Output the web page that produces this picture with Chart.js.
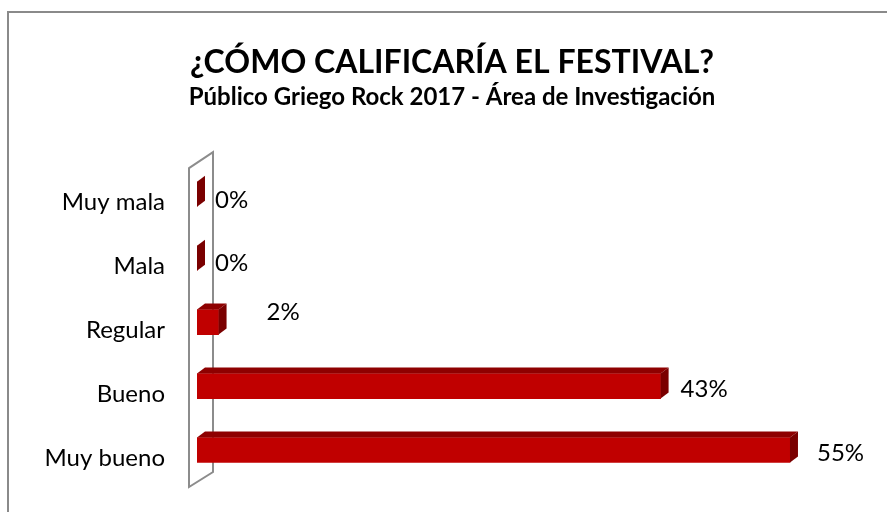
<!DOCTYPE html>
<html>
<head>
<meta charset="utf-8">
<script src="https://cdn.jsdelivr.net/npm/chart.js@4.4.1/dist/chart.umd.min.js"></script>
<style>
  html, body { margin: 0; padding: 0; background: #fff; }
  #wrap { width: 887px; height: 512px; position: relative; }
</style>
</head>
<body>
<div id="wrap"><canvas id="chart"></canvas></div>
<script>
// categories (top to bottom) and the share of answers, in percent
var categories = ['Muy mala', 'Mala', 'Regular', 'Bueno', 'Muy bueno'];
var shares = [0, 0, 2, 43, 55];
var valueLabels = ['0%', '0%', '2%', '43%', '55%'];

var titleText = '¿CÓMO CALIFICARÍA EL FESTIVAL?';
var subtitleText = 'Público Griego Rock 2017 - Área de Investigación';

var FONT = 'Lato, Calibri, "Open Sans", sans-serif';
var RED = '#c00000';
var RED_TOP = '#8e0000';
var RED_SIDE = '#7a0000';

// outer frame of the picture
var framePlugin = {
    id: 'frame',
    beforeDraw: function(chart) {
        var ctx = chart.ctx;
        ctx.save();
        ctx.fillStyle = '#fff';
        ctx.fillRect(0, 0, chart.width, chart.height);
        ctx.strokeStyle = '#8a8a8a';
        ctx.lineWidth = 2;
        ctx.strokeRect(8, 12, chart.width + 10, chart.height + 10);
        ctx.restore();
    }
};

// the slanted back wall at value 0
var wallPlugin = {
    id: 'wall',
    beforeDatasetsDraw: function(chart) {
        var a = chart.chartArea, ctx = chart.ctx;
        var l = a.left - 8;
        ctx.save();
        ctx.beginPath();
        ctx.moveTo(l, a.top + 6);
        ctx.lineTo(l + 24, a.top - 10);
        ctx.lineTo(l + 24, a.bottom - 10);
        ctx.lineTo(l, a.bottom + 5);
        ctx.closePath();
        ctx.fillStyle = '#fff';
        ctx.fill();
        ctx.strokeStyle = '#8c8c8c';
        ctx.lineWidth = 2;
        ctx.stroke();
        ctx.restore();
    }
};

// top and side faces of each bar, plus the value labels
var bars3dPlugin = {
    id: 'bars3d',
    afterDatasetsDraw: function(chart, args, opts) {
        var ctx = chart.ctx;
        var dx = opts.depthX, dy = opts.depthY;
        var meta = chart.getDatasetMeta(0);
        ctx.save();
        meta.data.forEach(function(bar, i) {
            var p = bar.getProps(['x', 'y', 'base', 'height'], true);
            var top = p.y - p.height / 2, bottom = p.y + p.height / 2;
            // top face
            ctx.beginPath();
            ctx.moveTo(p.base, top);
            ctx.lineTo(p.x, top);
            ctx.lineTo(p.x + dx, top - dy);
            ctx.lineTo(p.base + dx, top - dy);
            ctx.closePath();
            ctx.fillStyle = RED_TOP;
            ctx.fill();
            // side face
            ctx.beginPath();
            ctx.moveTo(p.x, top);
            ctx.lineTo(p.x + dx, top - dy);
            ctx.lineTo(p.x + dx, bottom - dy);
            ctx.lineTo(p.x, bottom);
            ctx.closePath();
            ctx.fillStyle = RED_SIDE;
            ctx.fill();
            // value label
            var n = opts.nudge[i] || [0, 0];
            ctx.font = '24px ' + FONT;
            ctx.fillStyle = '#000';
            ctx.textAlign = 'left';
            ctx.textBaseline = 'middle';
            ctx.fillText(valueLabels[i], p.x + dx + n[0], p.y + n[1]);
        });
        ctx.restore();
    }
};

new Chart(document.getElementById('chart'), {
    type: 'bar',
    data: {
        labels: categories,
        datasets: [{
            data: shares,
            backgroundColor: RED,
            borderWidth: 0,
            barThickness: 25
        }]
    },
    options: {
        indexAxis: 'y',
        responsive: true,
        maintainAspectRatio: false,
        animation: false,
        layout: { padding: { top: 30, bottom: 30, left: 17, right: 0 } },
        scales: {
            x: {
                display: false,
                min: 0,
                max: 64
            },
            y: {
                grid: { display: false, drawBorder: false },
                border: { display: false },
                ticks: {
                    color: '#000',
                    padding: 24,
                    labelOffset: 8,
                    font: { family: FONT, size: 24 }
                },
                afterFit: function(scale) {
                    scale.width = 180;
                    scale.paddingTop = 0;
                    scale.paddingBottom = 0;
                }
            }
        },
        plugins: {
            legend: { display: false },
            tooltip: { enabled: false },
            title: {
                display: true,
                text: titleText,
                color: '#000',
                font: { family: FONT, size: 32, weight: 'bold' },
                padding: { top: 13, bottom: 0 }
            },
            subtitle: {
                display: true,
                text: subtitleText,
                color: '#000',
                font: { family: FONT, size: 24, weight: 'bold' },
                padding: { top: 1, bottom: 51 }
            },
            bars3d: {
                depthX: 8,
                depthY: 6,
                nudge: [[10, 6], [10, 5], [40, -10], [12, 3], [19, 3]]
            }
        }
    },
    plugins: [framePlugin, wallPlugin, bars3dPlugin]
});
</script>
</body>
</html>
